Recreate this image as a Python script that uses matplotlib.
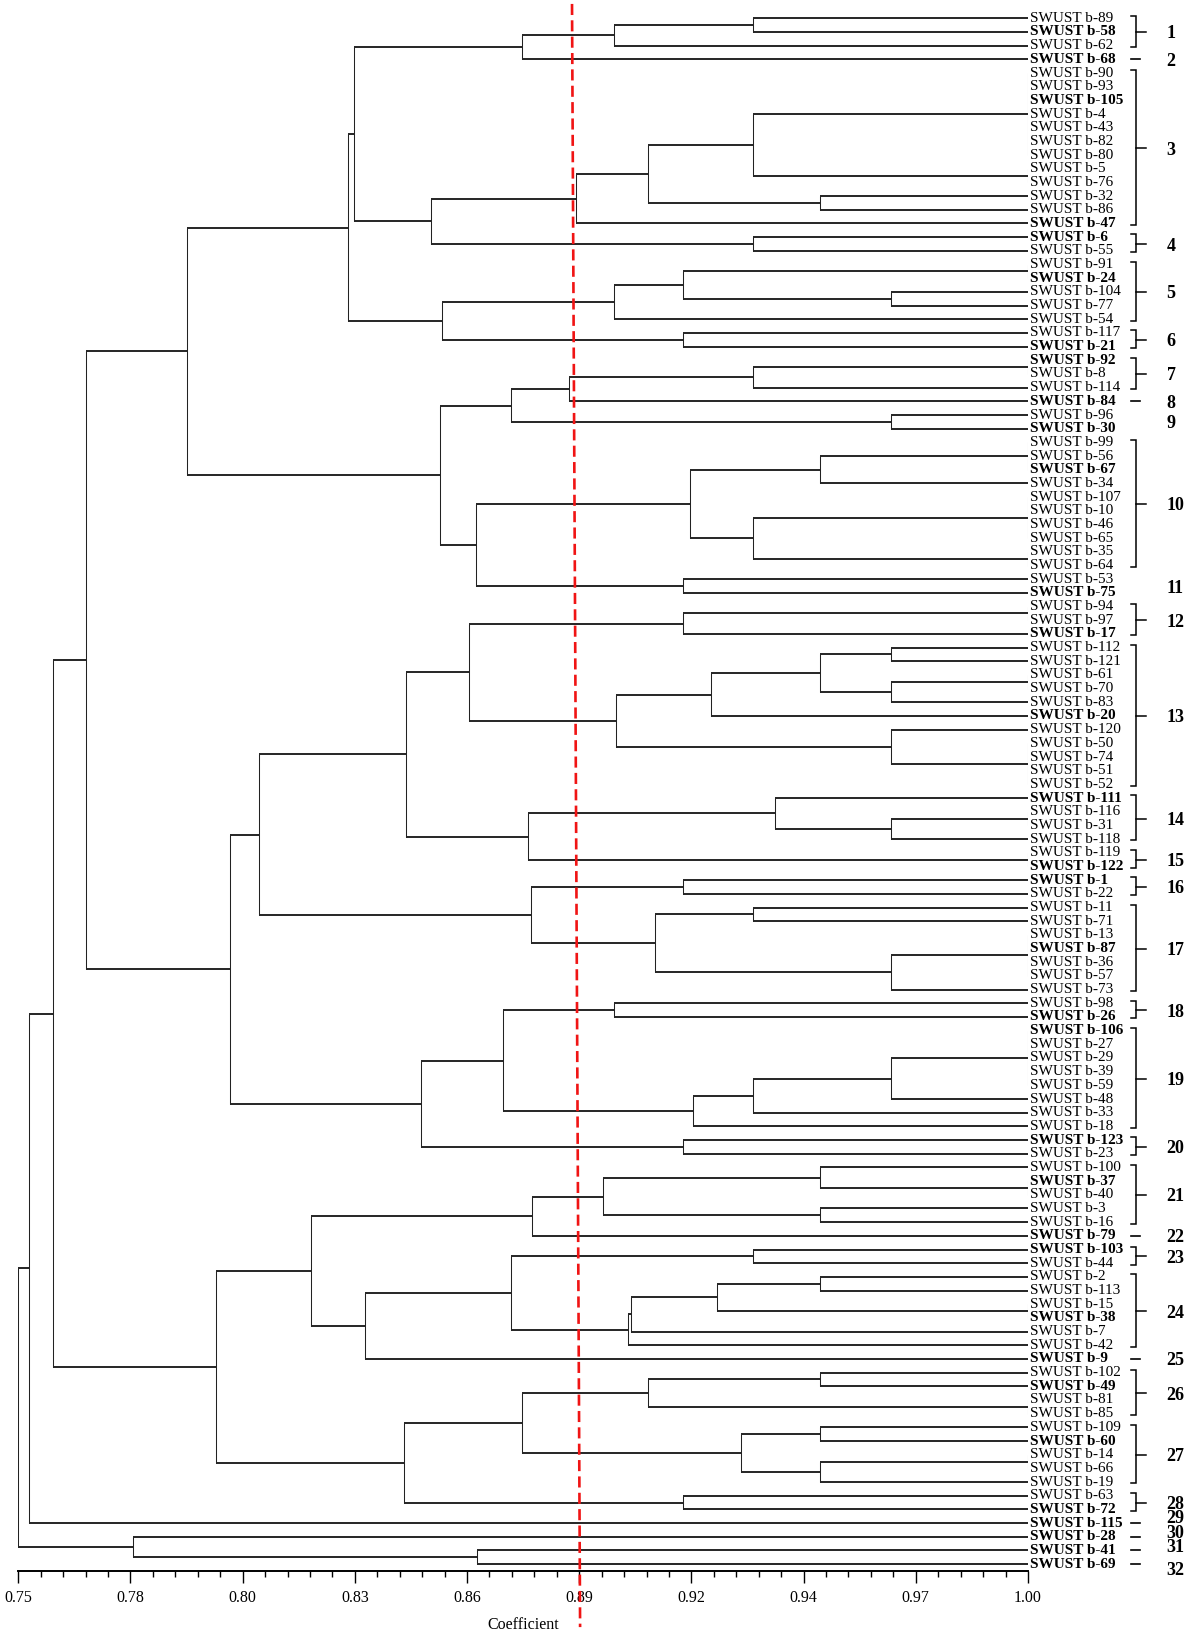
import matplotlib
matplotlib.use("Agg")
import matplotlib.pyplot as plt
from matplotlib.collections import LineCollection
import numpy as np

plt.rcParams['font.family'] = ['Liberation Serif', 'DejaVu Serif']

# ---------------- data ----------------
# sub-trees: (similarity, [children]); integers are accession numbers "SWUST b-<n>"
c1_2 = (0.8748, [(0.8975, [(0.9318, [89, 58]), 62]), 68])
c3 = (0.8882, [(0.9060, [(0.9318, [(1.0, [90, 93, 105, 4, 43, 82, 80]), (1.0, [5, 76])]),
                         (0.9486, [32, 86])]), 47])
c4 = (0.9318, [6, 55])
c5 = (0.8975, [(0.9147, [(1.0, [91, 24]), (0.9660, [104, 77])]), 54])
c6 = (0.9147, [117, 21])
c7_8 = (0.8863, [(0.9318, [(1.0, [92, 8]), 114]), 84])
c9 = (0.9660, [96, 30])
c10 = (0.9162, [(0.9486, [(1.0, [99, 56, 67]), 34]),
                (0.9318, [(1.0, [107, 10, 46, 65]), (1.0, [35, 64])])])
c11 = (0.9147, [53, 75])
c12 = (0.9147, [(1.0, [94, 97]), 17])
c13 = (0.8981, [(0.9215, [(0.9486, [(0.9660, [112, 121]), (0.9660, [(1.0, [61, 70]), 83])]), 20]),
                (0.9660, [120, (1.0, [50, 74, 51, 52])])])
c14 = (0.9374, [111, (0.9660, [(1.0, [116, 31]), 118])])
c15 = (1.0, [119, 122])
c16 = (0.9147, [1, 22])
c17 = (0.9076, [(0.9318, [11, 71]), (0.9660, [(1.0, [13, 87, 36, 57]), 73])])
c18 = (0.8975, [98, 26])
c19 = (0.9171, [(0.9318, [(0.9660, [(1.0, [106, 27, 29, 39, 59]), 48]), 33]), 18])
c20 = (0.9147, [123, 23])
c21_22 = (0.8771, [(0.8948, [(0.9486, [100, (1.0, [37, 40])]), (0.9486, [3, 16])]), 79])
c23 = (0.9318, [103, 44])
c24 = (0.9010, [(0.9018, [(0.9231, [(0.9486, [2, 113]), (1.0, [15, 38])]), 7]), 42])
c26 = (0.9060, [(0.9486, [102, 49]), (1.0, [81, 85])])
c27 = (0.9289, [(0.9486, [109, 60]), (0.9486, [(1.0, [14, 66]), 19])])
c28 = (0.9147, [63, 72])

grp_A = (0.8317, [(0.8331, [c1_2, (0.8522, [c3, c4])]), (0.8549, [c5, c6])])
grp_B = (0.8544, [(0.8721, [c7_8, c9]), (0.8634, [c10, c11])])
grp_C = (0.8097, [(0.8460, [(0.8615, [c12, c13]), (0.8763, [c14, c15])]),
                  (0.8769, [c16, c17])])
grp_D = (0.8497, [(0.8699, [c18, c19]), c20])
grp_E = (0.8225, [c21_22, (0.8358, [(0.8721, [c23, c24]), 9])])
grp_F = (0.8454, [(0.8746, [c26, c27]), c28])

tree = (0.7500, [(0.7527, [(0.7587, [(0.7668, [(0.7917, [grp_A, grp_B]),
                                               (0.8023, [grp_C, grp_D])]),
                                     (0.7990, [grp_E, grp_F])]), 115]),
                 (0.7783, [28, (0.8635, [41, 69])])])

bold_ids = [58, 68, 105, 47, 6, 24, 21, 92, 84, 30, 67, 75, 17, 20, 111, 122, 1, 87,
            26, 106, 123, 37, 79, 103, 38, 9, 49, 60, 72, 115, 28, 41, 69]

cluster_first = [89, 68, 90, 6, 91, 117, 92, 84, 96, 99, 53, 94, 112, 111, 119, 1,
                 11, 98, 106, 123, 100, 79, 103, 2, 9, 102, 109, 63, 115, 28, 41, 69]
cluster_last = [62, 68, 47, 55, 54, 21, 114, 84, 30, 64, 75, 17, 52, 118, 122, 22,
                73, 26, 18, 23, 16, 79, 44, 42, 9, 85, 19, 72, 115, 28, 41, 69]
cluster_no_bracket = [9, 11]
# small vertical shifts of the crowded cluster numbers at the bottom (leaf units)
number_shift = {29: -0.45, 30: -0.4, 31: -0.35, 32: 0.3}

tick_values = np.linspace(0.75, 1.00, 10)
tick_labels = ['0.75', '0.78', '0.80', '0.83', '0.86', '0.89', '0.92', '0.94', '0.97', '1.00']
cut_top, cut_bottom = 0.8871, 0.8891

# ---------------- layout ----------------
leaf_order = []
h_segs, v_segs, g_segs = [], [], []


def place(node):
    if isinstance(node, int):
        leaf_order.append(node)
        return 1.0, float(len(leaf_order) - 1)
    h, kids = node
    pos = [place(k) for k in kids]
    ys = [p[1] for p in pos]
    y0, y1 = min(ys), max(ys)
    if h >= 1.0:
        g_segs.append([(h, y0), (h, y1)])
    else:
        v_segs.append([(h, y0), (h, y1)])
        for kx, ky in pos:
            h_segs.append([(h, ky), (kx, ky)])
    return h, (y0 + y1) / 2


rx, ry = place(tree)
n = len(leaf_order)
idx = {a: i for i, a in enumerate(leaf_order)}

W, H = 1194, 1637
fig = plt.figure(figsize=(W / 100, H / 100), dpi=100)
ax = fig.add_axes([18.3 / W, (H - 1571) / H, (1028 - 18.3) / W, (1571 - 4) / H])
ax.set_xlim(0.75, 1.0)
ax.set_ylim(113.5, -1.045)

ax.add_collection(LineCollection(h_segs, colors='black', linewidths=1.2, capstyle='butt'))
ax.add_collection(LineCollection(v_segs, colors='#222222', linewidths=0.75))
ax.add_collection(LineCollection(g_segs, colors='#777777', linewidths=0.75))

# leaf labels
for i, a in enumerate(leaf_order):
    ax.text(1.0006, i, f"SWUST b-{a}", ha='left', va='center', fontsize=11,
            fontweight='bold' if a in bold_ids else 'normal', clip_on=False)

# cluster brackets and numbers
xl, xv, xr, xn = 1.0256, 1.0268, 1.0293, 1.0343
for k, (f, l) in enumerate(zip(cluster_first, cluster_last), start=1):
    i0, i1 = idx[f], idx[l]
    mid = (i0 + i1) / 2
    if k not in cluster_no_bracket:
        if i0 == i1:
            ax.plot([xl, 1.0277], [mid, mid], color='black', lw=1.2, clip_on=False)
        else:
            ax.plot([xl, xv, xv, xl], [i0 - 0.2, i0 - 0.2, i1 + 0.1, i1 + 0.1],
                    color='black', lw=1.1, clip_on=False, solid_joinstyle='miter')
            ax.plot([xv, xr], [mid, mid], color='black', lw=1.1, clip_on=False)
    ax.text(xn, mid + number_shift.get(k, 0.0), str(k), ha='left', va='center_baseline',
            fontsize=13, fontweight='bold', clip_on=False)

# cut line
ax.plot([cut_top, cut_bottom], [-1.05, 117.6], color='#f01414', lw=1.9,
        ls=(0, (4.2, 2.0)), clip_on=False, zorder=5)

# axis
for s in ['top', 'right', 'left']:
    ax.spines[s].set_visible(False)
ax.spines['bottom'].set_linewidth(1.4)
ax.set_yticks([])
ax.set_xticks(tick_values)
ax.set_xticklabels(tick_labels)
minor = [v for v in np.linspace(0.75, 1.0, 46) if np.min(np.abs(tick_values - v)) > 1e-6]
ax.set_xticks(minor, minor=True)
ax.tick_params(axis='x', which='major', direction='out', length=8.4, width=1.0,
               labelsize=11.5, pad=5)
ax.tick_params(axis='x', which='minor', direction='out', length=4.3, width=1.0)
ax.set_xlabel('Coefficient', fontsize=11.5, labelpad=8)

fig.savefig('out.png', dpi=100)
